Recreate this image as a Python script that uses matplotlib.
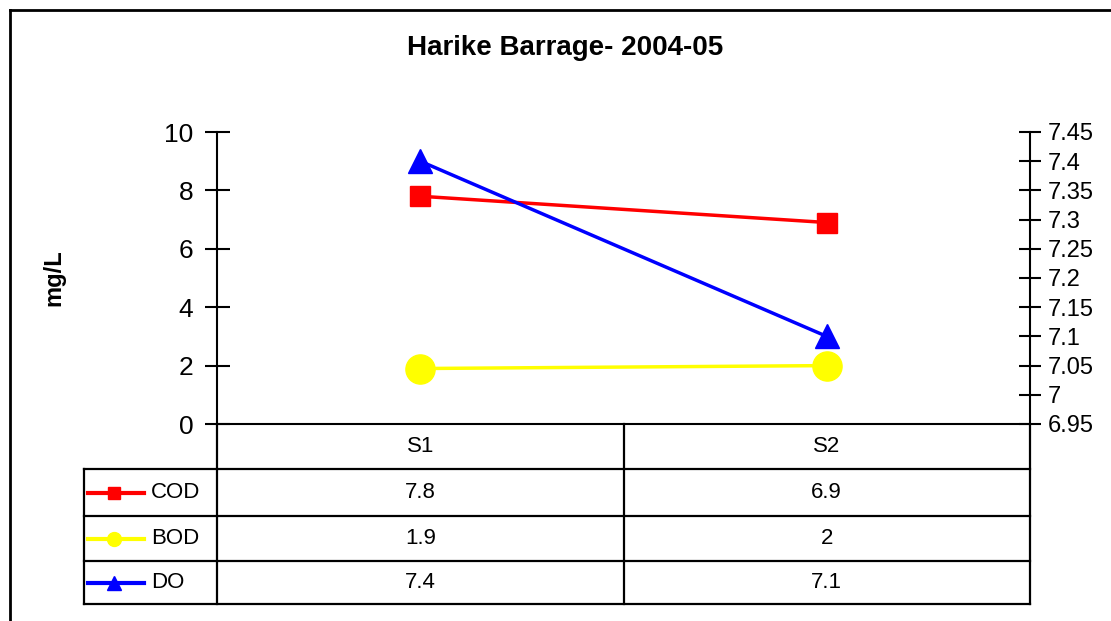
import matplotlib.pyplot as plt
from matplotlib.lines import Line2D

plt.rcParams['font.family'] = ['Liberation Sans', 'DejaVu Sans']

# Data
stations = ['S1', 'S2']
cod = [7.8, 6.9]
bod = [1.9, 2]
do = [7.4, 7.1]

W, H = 1111, 621
fig = plt.figure(figsize=(W / 100, H / 100), dpi=100)

# plot area in pixel terms
left, right, top, bottom = 217, 1030, 132, 424
ax = fig.add_axes([left / W, 1 - bottom / H, (right - left) / W, (bottom - top) / H])
ax2 = ax.twinx()

x = list(range(len(stations)))
ax.plot(x, cod, color='#FF0000', lw=2.5, marker='s', ms=15, zorder=3)
ax.plot(x, bod, color='#FFFF00', lw=2.5, marker='o', ms=21, zorder=3)
ax2.plot(x, do, color='#0000FF', lw=2.5, marker='^', ms=17, zorder=3)

ax.set_xlim(-0.5, len(stations) - 0.5)
ax.set_ylim(0, 10)
ax.set_yticks(range(0, 11, 2))
ax2.set_ylim(6.95, 7.45)
do_ticks = [round(6.95 + 0.05 * i, 2) for i in range(11)]
ax2.set_yticks(do_ticks)
ax2.set_yticklabels([f'{t:g}' for t in do_ticks])

for a in (ax, ax2):
    a.spines['top'].set_visible(False)
    for s in a.spines.values():
        s.set_linewidth(1.5)
    a.set_xticks([])
ax.spines['right'].set_visible(False)
ax2.spines['left'].set_visible(False)
ax2.spines['bottom'].set_visible(False)
ax.tick_params(axis='y', direction='inout', length=18, width=1.5, labelsize=19, pad=8)
ax2.tick_params(axis='y', direction='inout', length=16, width=1.5, labelsize=17, pad=5)

ax.set_ylabel('mg/L', fontsize=17, fontweight='bold')
ax.yaxis.set_label_coords(-0.187, 0.5)

fig.text(565 / W, 1 - 48 / H, 'Harike Barrage- 2004-05', ha='center', va='center',
         fontsize=20, fontweight='bold')

# data table under the plot (axes fraction coordinates)
ph = bottom - top
pw = right - left
def fy(py):
    return (bottom - py) / ph
def fx(px):
    return (px - left) / pw

row_edges = [424, 469, 516, 561, 604]
lkw = dict(color='black', lw=1.6, transform=ax.transAxes, clip_on=False)

ax.plot([fx(217), fx(217)], [fy(424), fy(604)], **lkw)
ax.plot([fx(624), fx(624)], [fy(424), fy(604)], **lkw)
ax.plot([fx(1030), fx(1030)], [fy(424), fy(604)], **lkw)
for ry in row_edges[1:]:
    ax.plot([fx(84), fx(1030)], [fy(ry), fy(ry)], **lkw)
ax.plot([fx(84), fx(84)], [fy(469), fy(604)], **lkw)

for i, name in enumerate(stations):
    ax.text(i, fy(446), name, transform=ax.get_xaxis_transform(), ha='center', va='center',
            fontsize=16, clip_on=False)

series = [('COD', cod, '#FF0000', 's', 8), ('BOD', bod, '#FFFF00', 'o', 10), ('DO', do, '#0000FF', '^', 10)]
for r, (name, vals, col, mk, ms) in enumerate(series):
    yc = fy((row_edges[r + 1] + row_edges[r + 2]) / 2)
    ax.plot([fx(88), fx(144)], [yc, yc], color=col, lw=3, transform=ax.transAxes, clip_on=False)
    ax.plot([fx(114)], [yc], color=col, marker=mk, ms=ms, transform=ax.transAxes, clip_on=False)
    ax.text(fx(151), yc, name, transform=ax.transAxes, ha='left', va='center', fontsize=16)
    for i, v in enumerate(vals):
        ax.text(i, yc, f'{v:g}', transform=ax.get_xaxis_transform(), ha='center', va='center',
                fontsize=16, clip_on=False)

# outer chart frame
fig.add_artist(Line2D([10 / W, 10 / W], [0, 1 - 10 / H], color='black', lw=2))
fig.add_artist(Line2D([10 / W, 1], [1 - 10 / H, 1 - 10 / H], color='black', lw=2))

fig.savefig('out.png', dpi=100)
